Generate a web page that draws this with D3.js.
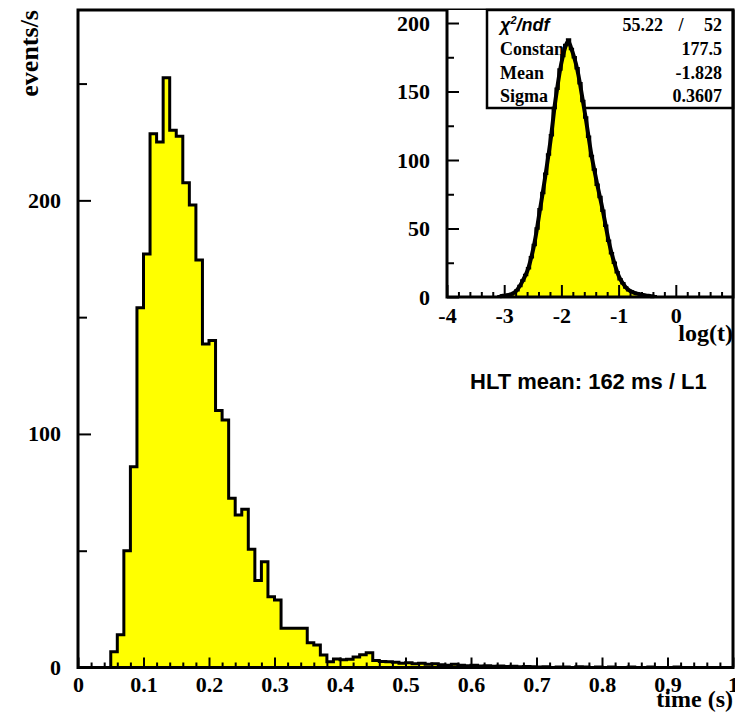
<!DOCTYPE html>
<html>
<head>
<meta charset="utf-8">
<title>HLT time</title>
<script src="https://d3js.org/d3.v7.min.js"></script>
<style>
  body { margin: 0; background: #fff; }
  svg { display: block; }
  .tick line { stroke: #000; stroke-width: 2; }
  .tick text { font-family: "Liberation Serif", serif; font-weight: bold; fill: #000; }
</style>
</head>
<body>
<svg width="735" height="714"></svg>
<script>
// main histogram: time in s, 100 bins of 0.01 starting at 0
const mainStart = 0, mainBin = 0.01;
const mainCounts = [
  0, 0, 0, 0, 0, 6.7, 14, 50, 86, 154,
  177, 228.5, 225, 252.5, 230, 227.5, 207.5, 198, 174.5, 138.5,
  140, 110, 106, 72.5, 65.3, 67.8, 50.6, 37.2, 45.3, 30.3,
  28.9, 16.8, 16.8, 16.8, 16.8, 10.6, 9.6, 5.4, 2.5, 3.6,
  3.3, 3.5, 4.5, 5.5, 6.3, 3, 2.6, 2.5, 2.2, 1.8,
  2.0, 1.6, 1.8, 1.4, 1.6, 1.2, 1.0, 1.4, 1.0, 0.8,
  1.0, 0.6, 0.8, 0.5, 0.6, 0.4, 0.5, 0.3, 0.4, 0.3,
  0.2, 0.3, 0, 0.2, 0.2, 0, 0.3, 0.2, 0, 0.2,
  0, 0.2, 0, 0, 0.2, 0, 0, 0.2, 0, 0,
  0, 0.2, 0, 0, 0, 0, 0, 0, 0, 0
];
const mainXTicks = [0, 0.1, 0.2, 0.3, 0.4, 0.5, 0.6, 0.7, 0.8, 0.9, 1];
const mainYTicks = [0, 100, 200];

// inset: log10(t), bins of 0.05 starting at -3.1
const insetStart = -3.1, insetBin = 0.05;
const insetCounts = [
  0.5, 1, 1, 1.5, 2, 3, 5, 8, 12, 16,
  21, 29, 38, 50, 64, 76, 90, 104, 118, 138,
  152, 166, 176, 184, 188, 181, 175, 167, 156, 143,
  131, 117, 103, 93, 82, 73, 63, 52, 41, 32,
  25, 18, 13, 10, 7, 5, 4, 3, 2.5, 2,
  1.5, 1, 1, 0.5, 0.5
];
const insetXTicks = [-4, -3, -2, -1, 0];
const insetYTicks = [0, 50, 100, 150, 200];

const fitNames = ["Constant", "Mean", "Sigma"];
const fitValues = ["177.5", "-1.828", "0.3607"];
const chi2 = "55.22", ndf = "52";

const svg = d3.select("svg");

function range(a, b, step) {
  const out = [];
  for (let v = a; v <= b + step / 1000; v += step) out.push(+v.toFixed(4));
  return out;
}

function histPath(x, y, start, bin, counts) {
  const pts = [[start, 0]];
  counts.forEach((c, i) => {
    pts.push([start + i * bin, c]);
    pts.push([start + (i + 1) * bin, c]);
  });
  pts.push([start + counts.length * bin, 0]);
  return d3.line().x(d => x(d[0])).y(d => y(d[1]))(pts);
}

function axis(g, gen, ticks, size, pad, fmt, fs) {
  g.call(gen.tickValues(ticks).tickSize(size).tickPadding(pad).tickFormat(fmt));
  g.select(".domain").remove();
  g.selectAll("text").style("font-size", fs + "px");
}

// ---------------- main pad ----------------
const x = d3.scaleLinear().domain([0, 1]).range([78, 733]);
const y = d3.scaleLinear().domain([0, 281.5]).range([667.5, 10]);

svg.append("path")
  .attr("d", histPath(x, y, mainStart, mainBin, mainCounts))
  .attr("fill", "#ffff00")
  .attr("stroke", "#000")
  .attr("stroke-width", 3);

const gx = svg.append("g").attr("transform", "translate(0,667.5)");
axis(gx.append("g"), d3.axisBottom(x), range(0, 1, 0.02).filter(v => Math.round(v * 100) % 10 != 0), -5, 9, "", 22);
axis(gx.append("g"), d3.axisBottom(x), mainXTicks, -10, 9, d => d === 0 ? "0" : d === 1 ? "1" : d3.format(".1f")(d), 22);

const gy = svg.append("g").attr("transform", "translate(78,0)");
axis(gy.append("g"), d3.axisLeft(y), [50, 150, 250], -9, 17, "", 22);
axis(gy.append("g"), d3.axisLeft(y), mainYTicks, -13, 17, d => String(d), 22);

svg.append("rect")
  .attr("x", x(0)).attr("y", y(281.5))
  .attr("width", x(1) - x(0)).attr("height", y(0) - y(281.5))
  .attr("fill", "none").attr("stroke", "#000").attr("stroke-width", 3);

svg.append("text")
  .attr("transform", "translate(38,10) rotate(-90)")
  .attr("text-anchor", "end")
  .style("font", "bold 26px 'Liberation Serif'")
  .text("events/s");

svg.append("text")
  .attr("x", 733).attr("y", 707)
  .attr("text-anchor", "end")
  .style("font", "bold 24px 'Liberation Serif'")
  .text("time (s)");

svg.append("text")
  .attr("x", 470).attr("y", 389)
  .style("font", "bold 22px 'Liberation Sans'")
  .text("HLT mean: 162 ms / L1");

// ---------------- inset pad ----------------
const ix = d3.scaleLinear().domain([-4, 1]).range([447, 733]);
const iy = d3.scaleLinear().domain([0, 209.5]).range([297, 10]);

svg.append("rect")
  .attr("x", ix(-4)).attr("y", iy(209.5))
  .attr("width", ix(1) - ix(-4)).attr("height", iy(0) - iy(209.5))
  .attr("fill", "#fff");

// stats box
const box = svg.append("g");
box.append("rect")
  .attr("x", 487).attr("y", 10).attr("width", 246).attr("height", 98)
  .attr("fill", "#fff").attr("stroke", "#000").attr("stroke-width", 2.5);
const chiText = box.append("text").attr("x", 500).attr("y", 31)
  .style("font", "bold italic 18px 'Liberation Sans'");
chiText.append("tspan").text("χ");
chiText.append("tspan").attr("dy", -7).style("font-size", "11px").text("2");
chiText.append("tspan").attr("dy", 7).text("/ndf");
box.append("text").attr("x", 663).attr("y", 31).attr("text-anchor", "end")
  .style("font", "bold 18px 'Liberation Serif'").text(chi2);
box.append("text").attr("x", 681).attr("y", 31).attr("text-anchor", "middle")
  .style("font", "bold 18px 'Liberation Serif'").text("/");
box.append("text").attr("x", 722).attr("y", 31).attr("text-anchor", "end")
  .style("font", "bold 18px 'Liberation Serif'").text(ndf);
fitNames.forEach((n, i) => {
  box.append("text").attr("x", 500).attr("y", 55 + i * 23.5)
    .style("font", "bold 18px 'Liberation Serif'").text(n);
  box.append("text").attr("x", 722).attr("y", 55 + i * 23.5).attr("text-anchor", "end")
    .style("font", "bold 18px 'Liberation Serif'").text(fitValues[i]);
});

svg.append("path")
  .attr("d", histPath(ix, iy, insetStart, insetBin, insetCounts))
  .attr("fill", "#ffff00")
  .attr("stroke", "#000")
  .attr("stroke-width", 2.5);

// fit curve drawn through the bin centres
svg.append("path")
  .attr("d", d3.line().curve(d3.curveBasis)
    .x((d, i) => ix(insetStart + (i + 0.5) * insetBin))
    .y(d => iy(d))(insetCounts))
  .attr("fill", "none")
  .attr("stroke", "#000")
  .attr("stroke-width", 4);

const igx = svg.append("g").attr("transform", "translate(0,297)");
axis(igx.append("g"), d3.axisBottom(ix), range(-4, 1, 0.2).filter(v => Math.abs(v - Math.round(v)) > 0.01), -5, 10, "", 22);
axis(igx.append("g"), d3.axisBottom(ix), insetXTicks, -12, 10, d => String(d), 22);

const igy = svg.append("g").attr("transform", "translate(447,0)");
axis(igy.append("g"), d3.axisLeft(iy), [25, 75, 125, 175], -7, 17, "", 22);
axis(igy.append("g"), d3.axisLeft(iy), insetYTicks, -12, 17, d => String(d), 22);

svg.append("path")
  .attr("d", `M${ix(-4)},${iy(209.5)}V${iy(0)}H${ix(1)}V${iy(209.5)}`)
  .attr("fill", "none").attr("stroke", "#000").attr("stroke-width", 3);

svg.append("text")
  .attr("x", 733).attr("y", 341)
  .attr("text-anchor", "end")
  .style("font", "bold 24px 'Liberation Serif'")
  .text("log(t)");
</script>
</body>
</html>
